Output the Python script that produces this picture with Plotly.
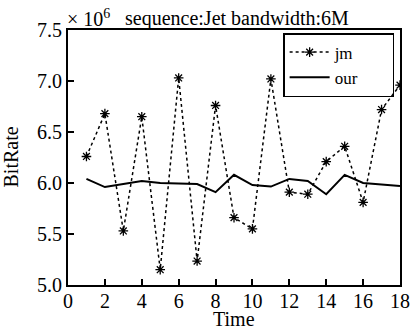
import plotly.graph_objects as go

time = list(range(1, 19))
jm = [6.26, 6.68, 5.53, 6.65, 5.15, 7.03, 5.235, 6.76, 5.66, 5.55, 7.02, 5.91, 5.89, 6.21, 6.36, 5.81, 6.72, 6.96]
our = [6.04, 5.96, 5.99, 6.02, 6.0, 5.995, 5.99, 5.91, 6.08, 5.98, 5.965, 6.04, 6.02, 5.89, 6.08, 6.0, 5.985, 5.97]
x_ticks = list(range(0, 19, 2))
y_ticks = [5.0, 5.5, 6.0, 6.5, 7.0, 7.5]

FONT = "Liberation Serif"
PAD = "\u00a0" * 7

fig = go.Figure()
fig.add_trace(go.Scatter(
    x=time, y=jm, name="jm" + PAD + "\u00a0", mode="lines+markers",
    line=dict(color="black", width=1.5, dash="dot"),
    marker=dict(symbol="asterisk-open", size=8, color="black",
                line=dict(color="black", width=1.3)),
))
fig.add_trace(go.Scatter(
    x=time, y=our, name="our" + PAD, mode="lines",
    line=dict(color="black", width=2),
))

axis_common = dict(
    showgrid=False, zeroline=False, showline=True, linecolor="black", linewidth=2,
    mirror=True, ticks="inside", ticklen=6, tickwidth=1.5, tickcolor="black",
    tickfont=dict(family=FONT, size=20, color="black"), automargin=False,
)
fig.update_xaxes(range=[0, 18], tickvals=x_ticks, ticktext=[str(v) for v in x_ticks],
                 ticklabelstandoff=-3, **axis_common)
fig.update_yaxes(range=[5.0, 7.5], tickvals=y_ticks, ticktext=[f"{v:.1f}" for v in y_ticks],
                 **axis_common)

txt = dict(family=FONT, size=20, color="black")
fig.add_annotation(x=0.5, y=0, xref="paper", yref="paper", xanchor="center", yanchor="middle",
                   text="Time", showarrow=False, yshift=-34, font=txt)
fig.add_annotation(x=0, y=0.5, xref="paper", yref="paper", xanchor="right", yanchor="middle",
                   text="BitRate", showarrow=False, xshift=-45, textangle=-90, font=txt)
fig.add_annotation(x=-0.01, y=1.0, xref="paper", yref="paper", xanchor="left", yanchor="bottom",
                   text="× 10<sup>6</sup>", showarrow=False, yshift=-2, font=txt)
fig.add_annotation(x=0.165, y=1.0, xref="paper", yref="paper", xanchor="left", yanchor="bottom",
                   text="sequence:Jet bandwidth:6M", showarrow=False, yshift=-2, font=txt)

fig.update_layout(
    width=411, height=329,
    margin=dict(l=68, r=11, t=30, b=44, autoexpand=False),
    paper_bgcolor="white", plot_bgcolor="white",
    legend=dict(x=0.648, y=0.988, xanchor="left", yanchor="top",
                bordercolor="black", borderwidth=1.5, bgcolor="rgba(255,255,255,0)",
                font=dict(family=FONT, size=17, color="black"),
                tracegroupgap=0, itemwidth=40),
    showlegend=True,
)

fig.write_html("out.html")
